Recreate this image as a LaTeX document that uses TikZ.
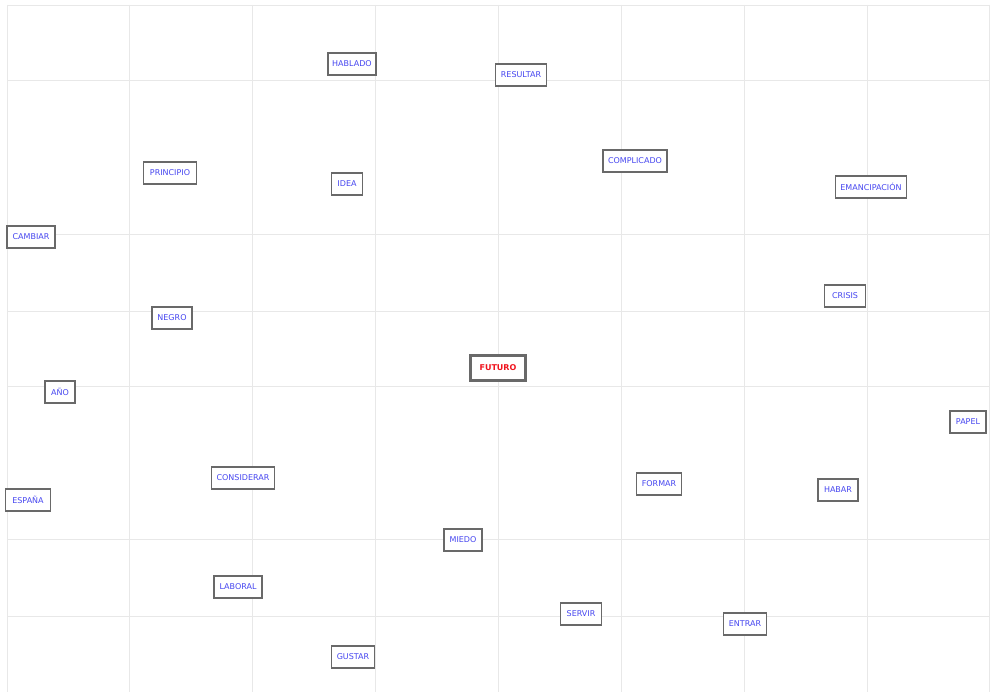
\documentclass[tikz,border=0pt]{standalone}
\usepackage{fontspec}
\setmainfont{DejaVu Sans}
\definecolor{gridc}{RGB}{232,232,232}
\definecolor{wordc}{RGB}{70,70,240}
\definecolor{boxc}{RGB}{105,105,105}
\definecolor{mainc}{RGB}{240,20,30}
\tikzset{
  word/.style={draw=boxc, line width=1.4pt, fill=white, text=wordc, font=\fontsize{8}{9}\selectfont,
    inner sep=0pt, minimum height=22pt, align=center},
  mainword/.style={draw=boxc, line width=2.6pt, fill=white, text=mainc,
    font=\fontsize{8}{9}\selectfont\bfseries, inner sep=0pt, minimum height=25pt, minimum width=55pt},
  gridline/.style={draw=gridc, line width=0.9pt}
}
\begin{document}
\begin{tikzpicture}[x=1pt,y=-1pt]
\useasboundingbox (0,0) rectangle (990,692);
\fill[white] (0,0) rectangle (990,692);
% grid
\foreach \gx in {7,129,252,375,498,621,744,867,989}
  \draw[gridline] (\gx,5) -- (\gx,692);
\foreach \gy in {5,80,234,311,386,539,616}
  \draw[gridline] (7,\gy) -- (990,\gy);
% words
\node[word, minimum width=48pt] (hablado) at (352,64) {HABLADO};
\node[word, minimum width=51pt] (resultar) at (521,75) {RESULTAR};
\node[word, minimum width=64pt] (complicado) at (635,161) {COMPLICADO};
\node[word, minimum width=71pt] (emancipacion) at (871,187) {EMANCIPACIÓN};
\node[word, minimum width=53pt] (principio) at (170,173) {PRINCIPIO};
\node[word, minimum width=31pt] (idea) at (347,184) {IDEA};
\node[word, minimum width=48pt] (cambiar) at (31,237) {CAMBIAR};
\node[word, minimum width=40pt] (negro) at (172,318) {NEGRO};
\node[word, minimum width=30pt] (anio) at (60,392) {AÑO};
\node[word, minimum width=63pt] (considerar) at (243,478) {CONSIDERAR};
\node[word, minimum width=45pt] (espana) at (28,500) {ESPAÑA};
\node[word, minimum width=48pt] (laboral) at (238,587) {LABORAL};
\node[mainword] (futuro) at (498,368) {FUTURO};
\node[word, minimum width=41pt] (crisis) at (845,296) {CRISIS};
\node[word, minimum width=36pt] (papel) at (968,422) {PAPEL};
\node[word, minimum width=45pt] (formar) at (659,484) {FORMAR};
\node[word, minimum width=40pt] (habar) at (838,490) {HABAR};
\node[word, minimum width=38pt] (miedo) at (463,540) {MIEDO};
\node[word, minimum width=41pt] (servir) at (581,614) {SERVIR};
\node[word, minimum width=43pt] (gustar) at (353,657) {GUSTAR};
\node[word, minimum width=43pt] (entrar) at (745,624) {ENTRAR};
\end{tikzpicture}
\end{document}
